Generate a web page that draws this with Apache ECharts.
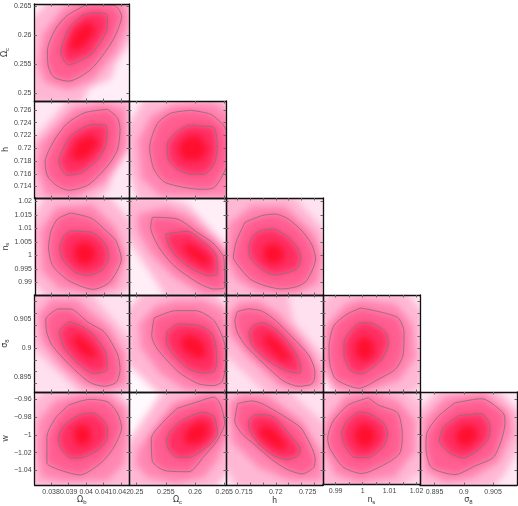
<!DOCTYPE html>
<html><head><meta charset="utf-8">
<style>html,body{margin:0;padding:0;background:#fff}#c{width:518px;height:506px}</style>
<script src="https://cdn.jsdelivr.net/npm/echarts@6/dist/echarts.min.js"></script>
</head><body><div id="c"></div>
<script>
const MILLI = 0.001;
const omegaBTicks=[0.038,0.039,0.04,0.041,0.042];
const omegaCTicks=[0.25,0.255,0.26,0.265];
const hLabelTicksX=[0.715,0.72,0.725];
const hMinorTicks=[0.714,0.716,0.718,0.72,0.722,0.724,0.726];
const nsLabelTicksX=[0.99,1,1.01,1.02];
const nsTicks=[0.99,0.995,1,1.005,1.01,1.015,1.02];
const s8Ticks=[0.895,0.9,0.905];
const s8MinorTicks=[0.894,0.896,0.898,0.9,0.902,0.904,0.906,0.908];
const wTicks=[-1.04,-1.02,-1,-0.98,-0.96];

// Ωc vs Ωb
const ocOb_pale=[[38.08,266.44],[42.7,266.44],[42.7,259.6],[41.69,255.04],[41.41,252.48],[40.2,250.94],[39.74,248.2],[36.78,248.2],[36.78,262.45]];
const ocOb_mid=[[39.37,266.16],[38.63,264.45],[37.52,260.17],[37.25,255.04],[37.62,251.91],[39.0,250.59],[40.39,252.19],[41.78,257.32],[42.43,261.88],[42.24,266.16]];
const ocOb_outer=[[40.02,265.19],[38.91,263.3],[38.26,261.0],[37.8,257.3],[37.84,254.75],[38.17,252.76],[39.0,252.1],[40.3,254.2],[41.5,259.0],[42.02,263.2],[41.59,265.07]];
const ocOb_inner=[[39.74,263.3],[39.0,261.0],[38.56,257.0],[39.0,254.9],[40.3,256.75],[41.19,261.0],[41.22,263.3],[40.85,263.76],[40.3,263.76]];
const ocOb_core=[[40.2,262.45],[40.57,260.74],[39.93,258.18],[39.28,257.03],[39.0,258.18],[39.46,261.03]];
// h vs Ωb
const hOb_pale=[[36.78,720.61],[39.0,727.66],[42.61,727.92],[42.61,720.61],[41.5,715.92],[41.22,713.31],[40.3,711.48],[36.78,711.48]];
const hOb_mid=[[37.34,720.61],[39.28,726.36],[40.85,727.14],[42.24,726.36],[42.33,720.09],[41.04,714.61],[39.37,712.26],[37.71,712.52],[37.15,716.96]];
const hOb_outer=[[41.22,726.1],[39.93,725.57],[38.91,723.85],[38.17,721.14],[37.67,717.85],[37.8,715.65],[38.36,714.09],[39.0,713.41],[40.11,714.25],[41.22,717.22],[41.78,719.73],[41.93,722.96],[41.78,724.79]];
const hOb_inner=[[41.13,723.64],[40.39,723.75],[39.65,722.96],[39.0,721.55],[38.45,717.85],[38.91,715.76],[39.74,716.18],[40.67,718.26],[41.07,720.09],[41.19,722.18]];
const hOb_core=[[40.3,722.18],[40.76,720.88],[40.2,718.79],[39.56,718.0],[39.1,718.53],[39.47,721.14]];
// h vs Ωc
const hOc_pale=[[248.13,723.22],[251.27,727.66],[266.09,727.92],[266.09,711.74],[250.13,711.74],[248.13,718.0]];
const hOc_mid=[[250.13,721.14],[252.41,725.05],[256.4,726.88],[263.24,727.14],[266.09,725.31],[266.09,712.26],[254.12,712.52],[250.7,715.39]];
const hOc_outer=[[259.25,725.94],[262.67,725.31],[265.06,723.33],[266.09,720.09],[265.34,716.96],[263.24,713.83],[260.96,713.57],[254.97,714.61],[252.98,716.7],[252.23,720.09],[253.55,723.85],[255.83,725.47]];
const hOc_inner=[[258.96,723.64],[256.68,722.44],[255.26,720.61],[255.43,718.26],[256.97,716.7],[259.25,715.92],[261.53,715.92],[263.24,717.48],[263.81,720.09],[263.24,723.22],[260.96,723.49]];
const hOc_core=[[260.39,722.18],[262.38,720.09],[260.96,718.0],[258.11,718.0],[256.97,719.83],[258.11,721.66]];
// ns vs Ωb
const nsOb_pale=[[36.78,1011.65],[37.62,1022.54],[41.22,1022.54],[42.61,1012.27],[42.61,988.15],[41.59,983.82],[37.71,983.82],[36.78,991.86]];
const nsOb_mid=[[37.34,1009.18],[38.26,1017.84],[40.3,1019.07],[41.69,1010.41],[42.24,999.28],[41.78,988.77],[40.48,985.67],[38.45,987.53],[37.43,994.33]];
const nsOb_outer=[[39.1,1015.73],[40.3,1013.75],[41.22,1008.56],[41.69,1005.47],[42.0,998.66],[41.32,990.0],[40.39,987.41],[39.0,990.62],[38.08,996.19],[37.84,1003.0],[37.99,1009.18],[38.36,1013.51]];
const nsOb_inner=[[39.1,1009.05],[40.3,1008.56],[40.85,1006.08],[41.22,1002.37],[41.26,998.66],[40.85,994.33],[40.11,992.6],[39.37,993.71],[38.63,998.66],[38.48,1003.0],[38.73,1007.32]];
const nsOb_core=[[39.84,1005.47],[40.48,1003.0],[40.58,998.66],[39.93,996.19],[39.37,998.04],[39.28,1003.0]];
// ns vs Ωc
const nsOc_pale=[[247.85,1021.55],[254.12,1022.17],[258.68,1019.07],[266.09,1001.76],[266.09,983.82],[255.26,983.82],[252.12,994.33],[247.85,1007.94]];
const nsOc_mid=[[250.13,1015.36],[255.26,1017.84],[259.25,1014.13],[266.09,999.9],[266.09,986.29],[261.53,985.06],[256.4,991.86],[252.41,1000.52],[250.13,1009.18]];
const nsOc_outer=[[252.69,1014.13],[256.97,1013.51],[260.39,1008.56],[263.24,1004.23],[264.95,998.66],[265.06,988.15],[263.24,987.53],[260.39,990.0],[256.4,996.19],[253.83,1003.0],[252.41,1010.41]];
const nsOc_inner=[[254.97,1007.94],[258.68,1008.93],[261.53,1004.85],[263.52,1000.52],[263.81,993.1],[262.38,992.48],[259.25,995.32],[256.68,999.9],[255.54,1003.61]];
const nsOc_core=[[258.68,1004.85],[261.53,1001.14],[262.95,997.43],[261.53,996.19],[259.25,999.28],[257.82,1003.0]];
// ns vs h
const nsH_pale=[[711.52,1022.78],[722.48,1022.78],[727.7,1009.18],[727.96,983.82],[711.52,983.82]];
const nsH_mid=[[712.57,1011.65],[716.22,1018.46],[721.44,1018.46],[726.14,1007.94],[727.44,999.28],[726.66,989.39],[723.01,985.67],[717.26,986.29],[713.61,991.24],[712.3,999.28]];
const nsH_outer=[[715.18,1012.27],[717.79,1014.74],[719.87,1015.36],[721.96,1013.51],[724.31,1008.56],[725.72,1003.61],[726.24,998.66],[724.83,990.62],[723.27,988.39],[720.92,987.53],[718.31,988.77],[715.96,991.24],[714.13,996.19],[713.35,999.28],[713.87,1005.47]];
const nsH_inner=[[717.52,1009.18],[719.61,1009.8],[721.96,1006.7],[723.53,1002.37],[723.89,998.66],[723.27,994.95],[719.87,992.72],[718.05,994.33],[715.96,999.28],[715.8,1003.61],[716.48,1007.32]];
const nsH_core=[[719.61,1004.85],[721.18,1002.37],[721.44,998.66],[719.61,996.19],[718.05,998.66],[718.05,1003.0]];
// σ8 vs Ωb
const s8Ob_pale=[[36.69,909.27],[40.2,909.56],[42.61,901.29],[42.61,891.89],[39.84,891.89],[36.88,900.15]];
const s8Ob_mid=[[37.25,905.85],[37.99,908.42],[39.47,908.42],[41.32,903.57],[42.24,899.01],[42.33,893.88],[41.13,892.74],[39.84,893.6],[38.54,897.02],[37.43,901.29]];
const s8Ob_outer=[[38.36,906.71],[39.1,906.71],[40.11,904.43],[41.04,902.72],[41.78,899.01],[41.93,896.45],[41.72,894.17],[41.04,893.48],[40.2,894.17],[39.1,897.02],[38.08,900.44],[37.76,902.72],[37.71,905.0]];
const s8Ob_inner=[[39.06,904.54],[39.74,903.74],[40.48,902.15],[41.13,899.01],[41.19,896.27],[40.39,895.7],[39.47,897.59],[38.73,900.15],[38.48,902.89]];
const s8Ob_core=[[39.47,902.43],[40.2,900.72],[40.67,898.73],[40.3,898.16],[39.65,899.3],[39.19,901.29]];
// σ8 vs Ωc
const s8Oc_pale=[[248.13,906.42],[250.98,909.56],[263.24,909.56],[266.09,906.99],[266.09,891.89],[254.12,891.89],[248.13,897.59]];
const s8Oc_mid=[[250.41,904.14],[253.26,907.28],[256.68,908.25],[261.24,908.25],[264.66,906.71],[266.09,903.0],[266.09,892.74],[258.39,892.74],[253.83,895.88],[250.7,900.15]];
const s8Oc_outer=[[252.98,905.17],[256.68,906.42],[260.1,906.42],[263.24,904.71],[265.12,900.44],[265.23,897.59],[264.66,894.34],[263.24,893.6],[260.67,893.88],[257.25,895.88],[253.55,899.87],[252.58,902.15]];
const s8Oc_inner=[[255.26,902.89],[257.14,904.14],[260.67,903.86],[262.67,902.72],[263.52,900.72],[263.69,897.59],[263.24,896.0],[261.24,895.76],[258.96,896.45],[256.4,898.73],[255.08,901.01]];
const s8Oc_core=[[258.96,902.43],[261.24,901.29],[262.1,898.73],[260.67,898.16],[258.39,899.3],[257.25,901.29]];
// σ8 vs h
const s8H_pale=[[711.63,909.27],[721.8,909.56],[722.85,904.43],[728.07,897.87],[728.07,891.89],[718.93,891.89],[711.63,899.3]];
const s8H_mid=[[712.67,905.85],[714.24,907.85],[717.37,908.13],[720.5,905.85],[724.15,901.29],[727.02,896.16],[727.02,893.6],[723.11,892.74],[720.5,893.6],[715.8,898.44],[712.67,902.43]];
const s8H_outer=[[713.97,906.25],[715.8,906.71],[717.89,906.31],[719.98,904.71],[722.59,901.86],[725.2,898.73],[726.14,895.88],[725.98,894.45],[725.46,893.77],[723.63,893.48],[721.28,894.34],[717.89,897.59],[715.28,900.44],[713.97,902.72],[713.61,904.71]];
const s8H_inner=[[716.58,903.97],[717.89,904.37],[719.72,903.46],[721.54,901.58],[723.37,898.73],[723.89,896.62],[723.74,895.7],[721.54,896.16],[718.41,898.16],[716.32,900.44],[715.8,902.72]];
const s8H_core=[[718.15,902.72],[720.24,901.29],[722.33,898.44],[721.54,897.59],[719.46,899.3],[718.15,901.01]];
// σ8 vs ns
const s8Ns_pale=[[984.43,907.56],[988.76,909.56],[1015.98,909.56],[1022.16,906.42],[1022.16,893.88],[1017.21,891.89],[991.24,891.89],[984.43,895.59]];
const s8Ns_mid=[[986.29,903.57],[993.71,907.56],[999.9,908.42],[1012.27,907.56],[1018.45,904.14],[1019.69,898.44],[1013.5,894.45],[1001.13,892.46],[990.0,893.03],[985.67,897.3]];
const s8Ns_outer=[[999.28,906.88],[1012.89,905.28],[1015.36,902.72],[1015.11,899.01],[1012.27,896.45],[1006.08,894.74],[998.66,893.14],[990.0,894.74],[987.77,897.59],[987.53,900.15],[989.38,903.86],[994.33,905.85]];
const s8Ns_inner=[[998.66,904.31],[1002.99,904.31],[1008.56,902.72],[1009.55,900.72],[1006.7,897.87],[999.28,895.59],[995.57,896.16],[993.09,898.73],[993.09,901.01],[995.57,903.0]];
const s8Ns_core=[[1000.52,902.15],[1004.23,901.01],[1004.23,898.73],[1000.52,897.59],[997.43,898.73],[997.43,901.01]];
// w vs Ωb
const wOb_pale=[[36.88,-964.53],[37.52,-949.33],[41.78,-949.33],[42.61,-968.15],[42.61,-1060.46],[36.88,-1060.46]];
const wOb_mid=[[37.25,-984.44],[38.26,-960.91],[39.56,-953.67],[41.22,-953.67],[42.24,-969.96],[42.43,-1000.73],[42.15,-1033.31],[41.22,-1051.41],[38.63,-1053.22],[37.43,-1047.79],[37.15,-1015.21]];
const wOb_outer=[[39.0,-966.34],[40.2,-959.83],[41.22,-962.72],[41.78,-975.39],[42.02,-991.68],[41.59,-1013.4],[40.85,-1031.5],[39.65,-1045.26],[38.63,-1040.55],[37.76,-1031.5],[37.76,-1002.54],[38.26,-980.82]];
const wOb_inner=[[39.1,-983.36],[39.74,-976.48],[40.39,-975.39],[40.95,-982.63],[41.22,-991.68],[41.19,-1004.35],[40.67,-1017.02],[39.65,-1026.07],[39.1,-1026.07],[38.63,-1017.02],[38.41,-1004.35],[38.63,-991.68]];
const wOb_core=[[39.65,-988.06],[40.2,-991.68],[40.3,-1004.35],[39.84,-1013.4],[39.37,-1009.78],[39.28,-995.3]];
// w vs Ωc
const wOc_pale=[[248.13,-1011.59],[254.69,-948.24],[266.09,-948.24],[266.09,-1040.55],[263.52,-1060.46],[248.13,-1060.46]];
const wOc_mid=[[250.13,-1017.02],[256.4,-962.72],[262.1,-951.86],[266.09,-955.48],[266.09,-993.49],[263.81,-1029.69],[261.53,-1047.79],[256.97,-1055.03],[251.84,-1047.79],[249.84,-1033.31]];
const wOc_outer=[[256.97,-969.96],[260.39,-962.72],[263.24,-957.29],[264.38,-966.34],[265.06,-986.25],[263.81,-1006.16],[261.53,-1024.26],[258.96,-1041.64],[254.97,-1040.55],[252.69,-1029.69],[252.52,-1004.35],[254.69,-984.44]];
const wOc_inner=[[257.54,-984.44],[261.24,-974.31],[263.24,-979.01],[263.81,-998.92],[262.1,-1013.4],[258.96,-1025.35],[256.97,-1025.35],[255.54,-1017.02],[255.14,-1006.16],[255.83,-995.3]];
const wOc_core=[[260.67,-984.44],[262.38,-988.06],[262.1,-1002.54],[259.82,-1011.59],[258.11,-1007.97],[258.39,-995.3]];
// w vs h
const wH_pale=[[711.55,-948.24],[721.73,-948.24],[727.99,-989.87],[727.99,-1060.46],[714.16,-1060.46],[711.55,-1033.31]];
const wH_mid=[[712.59,-964.53],[714.68,-953.67],[718.86,-955.48],[724.1,-984.44],[727.23,-1020.64],[727.23,-1051.41],[722.01,-1051.41],[717.29,-1036.93],[713.11,-1007.97]];
const wH_outer=[[714.05,-964.53],[716.25,-961.64],[717.81,-964.53],[719.64,-971.77],[722.51,-984.44],[724.1,-993.49],[726.17,-1027.88],[725.92,-1036.93],[724.1,-1044.17],[721.73,-1038.74],[719.38,-1027.88],[716.77,-1011.59],[714.73,-998.92],[713.58,-984.44]];
const wH_inner=[[715.72,-984.44],[716.77,-977.2],[718.33,-977.2],[719.9,-980.82],[722.51,-1002.54],[723.82,-1015.21],[723.56,-1023.18],[721.73,-1027.88],[719.38,-1022.45],[717.29,-1009.78],[715.83,-993.49]];
const wH_core=[[717.81,-988.06],[719.9,-993.49],[721.73,-1011.59],[721.2,-1018.83],[718.86,-1009.78],[717.29,-998.92]];
// w vs ns
const wNs_pale=[[984.19,-960.91],[987.9,-948.24],[1015.73,-948.24],[1022.53,-968.15],[1022.53,-1040.55],[1013.26,-1060.46],[986.04,-1060.46],[984.19,-1047.79]];
const wNs_mid=[[986.04,-986.25],[993.46,-955.48],[1003.36,-950.05],[1013.26,-960.91],[1019.44,-982.63],[1019.44,-1018.83],[1012.02,-1047.79],[998.41,-1054.31],[989.75,-1045.98],[986.04,-1018.83]];
const wNs_outer=[[1002.12,-958.02],[1005.83,-966.34],[1013.01,-975.39],[1014.74,-1000.73],[1013.87,-1020.64],[1009.55,-1031.5],[999.65,-1044.17],[992.85,-1036.93],[987.9,-1016.02],[987.03,-1004.35],[989.13,-984.44],[994.7,-966.34]];
const wNs_inner=[[998.41,-974.31],[1002.12,-975.39],[1007.69,-986.25],[1009.3,-998.92],[1007.69,-1013.4],[1002.12,-1026.07],[997.18,-1026.07],[993.22,-1011.59],[992.23,-998.92],[994.08,-984.44]];
const wNs_core=[[999.65,-986.25],[1003.98,-991.68],[1005.22,-1004.35],[1002.12,-1015.21],[998.41,-1013.4],[996.56,-998.92]];
// w vs σ8
const wS8_pale=[[891.93,-975.39],[895.64,-948.24],[905.61,-948.24],[909.89,-977.2],[909.89,-1007.97],[907.04,-1044.17],[904.76,-1060.46],[892.79,-1060.46],[891.93,-1047.79]];
const wS8_mid=[[893.07,-982.63],[896.78,-957.29],[903.62,-951.86],[907.89,-975.39],[908.46,-997.11],[905.9,-1031.5],[901.34,-1049.6],[896.78,-1053.22],[893.36,-1040.55]];
const wS8_outer=[[898.49,-963.81],[903.05,-959.1],[906.75,-975.39],[907.04,-986.25],[905.21,-1024.26],[901.91,-1035.12],[898.49,-1044.9],[894.5,-1036.93],[893.53,-1015.21],[893.64,-998.92],[895.64,-979.01]];
const wS8_inner=[[899.06,-978.29],[903.05,-976.12],[904.47,-989.87],[904.19,-1004.35],[902.48,-1017.02],[899.91,-1026.07],[897.63,-1020.64],[895.81,-1006.16],[896.49,-991.68]];
const wS8_core=[[900.2,-988.06],[902.19,-991.68],[902.48,-1002.54],[900.77,-1013.4],[899.06,-1011.59],[898.49,-998.92]];

const ringColors=['#ffb8d4','#ff88b2','#ff5f92','#ff2f62','#ff1030'];
const params={
  ob:{min:.03706,max:.04244,name:'{g|Ω}{s|b}',xLabels:omegaBTicks,xTicks:omegaBTicks},
  oc:{min:.2487,max:.2653,name:'{g|Ω}{s|c}',xLabels:omegaCTicks,xTicks:omegaCTicks,yLabels:omegaCTicks,yTicks:omegaCTicks},
  h:{min:.7122,max:.7274,name:'{t|h}',xLabels:hLabelTicksX,xTicks:hMinorTicks,yLabels:hMinorTicks,yTicks:hMinorTicks},
  ns:{min:.9853,max:1.0213,name:'{t|n}{s|s}',xLabels:nsLabelTicksX,xTicks:nsTicks,yLabels:nsTicks,yTicks:nsTicks},
  s8:{min:.8925,max:.9091,name:'{g|σ}{s|8}',xLabels:s8Ticks,xTicks:s8Ticks,yLabels:s8Ticks,yTicks:s8MinorTicks},
  w:{min:-1.0568,max:-.9515,name:'{t|w}',yLabels:wTicks,yTicks:wTicks}
};
const panels=[
 {r:0,c:0,x:'ob',y:'oc',bg:'#ffeef7',rings:[ocOb_pale,ocOb_mid,ocOb_outer,ocOb_inner,ocOb_core]},
 {r:1,c:0,x:'ob',y:'h',bg:'#ffe6f3',rings:[hOb_pale,hOb_mid,hOb_outer,hOb_inner,hOb_core]},
 {r:1,c:1,x:'oc',y:'h',bg:'#fff0f8',rings:[hOc_pale,hOc_mid,hOc_outer,hOc_inner,hOc_core]},
 {r:2,c:0,x:'ob',y:'ns',bg:'#ffeaf5',rings:[nsOb_pale,nsOb_mid,nsOb_outer,nsOb_inner,nsOb_core]},
 {r:2,c:1,x:'oc',y:'ns',bg:'#ffeef6',rings:[nsOc_pale,nsOc_mid,nsOc_outer,nsOc_inner,nsOc_core]},
 {r:2,c:2,x:'h',y:'ns',bg:'#ffe2f0',rings:[nsH_pale,nsH_mid,nsH_outer,nsH_inner,nsH_core]},
 {r:3,c:0,x:'ob',y:'s8',bg:'#ffe0ef',rings:[s8Ob_pale,s8Ob_mid,s8Ob_outer,s8Ob_inner,s8Ob_core]},
 {r:3,c:1,x:'oc',y:'s8',bg:'#fff8fc',rings:[s8Oc_pale,s8Oc_mid,s8Oc_outer,s8Oc_inner,s8Oc_core]},
 {r:3,c:2,x:'h',y:'s8',bg:'#ffe0ef',rings:[s8H_pale,s8H_mid,s8H_outer,s8H_inner,s8H_core]},
 {r:3,c:3,x:'ns',y:'s8',bg:'#ffe8f4',rings:[s8Ns_pale,s8Ns_mid,s8Ns_outer,s8Ns_inner,s8Ns_core]},
 {r:4,c:0,x:'ob',y:'w',bg:'#ffeef7',rings:[wOb_pale,wOb_mid,wOb_outer,wOb_inner,wOb_core]},
 {r:4,c:1,x:'oc',y:'w',bg:'#fffafd',rings:[wOc_pale,wOc_mid,wOc_outer,wOc_inner,wOc_core]},
 {r:4,c:2,x:'h',y:'w',bg:'#ffe0ef',rings:[wH_pale,wH_mid,wH_outer,wH_inner,wH_core]},
 {r:4,c:3,x:'ns',y:'w',bg:'#ffd8ea',rings:[wNs_pale,wNs_mid,wNs_outer,wNs_inner,wNs_core]},
 {r:4,c:4,x:'s8',y:'w',bg:'#ffe8f4',rings:[wS8_pale,wS8_mid,wS8_outer,wS8_inner,wS8_core]}
];
const LEFT=[32,129,226,323,420], TOP=[4,101,198,295,392], SIZE=97;
const OFF=3000, BLUR=7;
const rich={g:{fontFamily:'DejaVu Sans',fontSize:8,color:'#333'},t:{fontFamily:'Liberation Sans',fontSize:8.5,color:'#333'},s:{fontFamily:'Liberation Sans',fontSize:6,color:'#333',padding:[4,0,0,0]}};
const fmt=v=>String(v).replace('-','\u2212');
const lineStyle={show:true,onZero:false,lineStyle:{color:'#111',width:1.3}};
const grid=[],xAxis=[],yAxis=[],series=[];
panels.forEach(p=>{
  const i=grid.length, px=params[p.x], py=params[p.y];
  grid.push({show:true,left:LEFT[p.c],top:TOP[p.r],width:SIZE,height:SIZE,backgroundColor:p.bg,borderWidth:0});
  const xa=(pos,lab)=>({type:'value',gridIndex:i,position:pos,min:px.min,max:px.max,splitLine:{show:false},z:5,
    axisLine:lineStyle,axisTick:{show:true,inside:true,length:2.5,lineStyle:{color:'#666',width:1},customValues:px.xTicks},
    axisLabel:lab?{show:true,fontFamily:'Liberation Sans',fontSize:7,color:'#444',margin:3,customValues:px.xLabels,formatter:fmt}:{show:false},
    name:lab?px.name:'',nameLocation:'middle',nameGap:9,nameTextStyle:{rich}});
  const ya=(pos,lab)=>({type:'value',gridIndex:i,position:pos,min:py.min,max:py.max,splitLine:{show:false},z:5,
    axisLine:lineStyle,axisTick:{show:true,inside:true,length:2.5,lineStyle:{color:'#666',width:1},customValues:py.yTicks},
    axisLabel:lab?{show:true,fontFamily:'Liberation Sans',fontSize:7,color:'#444',margin:3,customValues:py.yLabels,formatter:fmt}:{show:false},
    name:lab?py.name:'',nameLocation:'middle',nameGap:20,nameRotate:90,nameTextStyle:{rich}});
  const xi=xAxis.length, yi=yAxis.length;
  xAxis.push(xa('bottom',p.r===4),xa('top',false));
  yAxis.push(ya('left',p.c===0),ya('right',false));
  p.rings.forEach((ring,k)=>{
    const pts=ring.map(q=>[q[0]*MILLI,q[1]*MILLI]);
    const col=ringColors[k];
    series.push({type:'custom',xAxisIndex:xi,yAxisIndex:yi,coordinateSystem:'cartesian2d',clip:true,silent:true,z:1+k*0.01,animation:false,
      data:pts,encode:{x:0,y:1},
      renderItem:(ps,api)=>{
        if(ps.dataIndex!==0) return;
        return {type:'polygon',x:-OFF,shape:{points:pts.map(q=>api.coord(q))},
          style:{fill:col,shadowBlur:BLUR,shadowColor:col,shadowOffsetX:OFF}};
      }});
    if(k===2||k===3){
      series.push({type:'line',xAxisIndex:xi,yAxisIndex:yi,data:pts.concat([pts[0]]),symbol:'none',silent:true,z:3,animation:false,clip:true,smooth:0.25,
        lineStyle:{color:'#8c6f7e',width:0.9}});
    }
  });
});
const chart=echarts.init(document.getElementById('c'),null,{renderer:'canvas'});
chart.setOption({animation:false,backgroundColor:'#fff',grid,xAxis,yAxis,series});
</script></body></html>
